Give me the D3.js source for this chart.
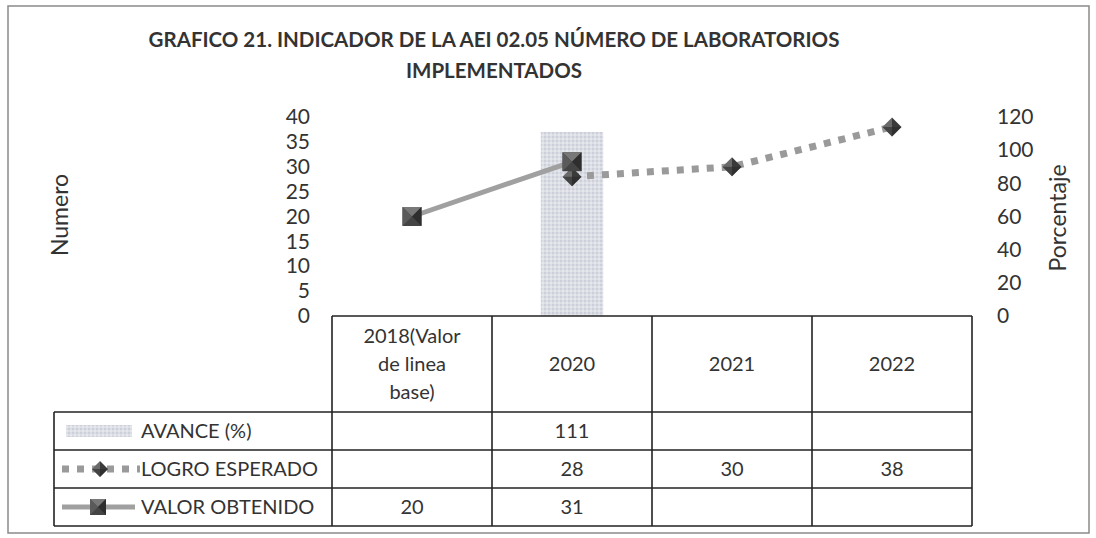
<!DOCTYPE html>
<html>
<head>
<meta charset="utf-8">
<script src="https://cdn.jsdelivr.net/npm/d3@7"></script>
<style>
  body { margin: 0; background: #fff; }
  svg { display: block; font-family: Lato, "Open Sans", sans-serif; }
</style>
</head>
<body>
<svg width="1096" height="538"></svg>
<script>
// data
const categories = ["2018", "2020", "2021", "2022"];
const categoryLabels = [["2018(Valor", "de linea", "base)"], ["2020"], ["2021"], ["2022"]];
const avance = [null, 111, null, null];
const logroEsperado = [null, 28, 30, 38];
const valorObtenido = [20, 31, null, null];
const leftTicks = [0, 5, 10, 15, 20, 25, 30, 35, 40];
const rightTicks = [0, 20, 40, 60, 80, 100, 120];
const seriesNames = ["AVANCE (%)", "LOGRO ESPERADO", "VALOR OBTENIDO"];

const svg = d3.select("svg");
const plotLeft = 332, plotRight = 972, plotTop = 117, plotBottom = 316;
const rowY = [316, 412, 450, 488, 526];
const legendLeft = 54;
const textCol = "#333";

// frame
svg.append("rect").attr("x", 8).attr("y", 6).attr("width", 1081).attr("height", 527)
    .attr("fill", "none").attr("stroke", "#8a8a8a").attr("stroke-width", 1.5);

// bar texture
const pat = svg.append("defs").append("pattern").attr("id", "barTex").attr("patternUnits", "userSpaceOnUse")
    .attr("width", 4).attr("height", 4);
pat.append("rect").attr("width", 4).attr("height", 4).attr("fill", "#dcdee6");
pat.append("rect").attr("width", 2).attr("height", 2).attr("fill", "#cdd0da");
pat.append("rect").attr("x", 2).attr("y", 2).attr("width", 2).attr("height", 2).attr("fill", "#e6e7ed");

// title
const title = svg.append("text").attr("text-anchor", "middle").attr("font-weight", "bold")
    .attr("font-size", 20.5).attr("fill", textCol);
title.append("tspan").attr("x", 494).attr("y", 47).text("GRAFICO 21. INDICADOR DE LA AEI 02.05 NÚMERO DE LABORATORIOS");
title.append("tspan").attr("x", 494).attr("y", 78).text("IMPLEMENTADOS");

// scales
const x = d3.scaleBand().domain(categories).range([plotLeft, plotRight]);
const yL = d3.scaleLinear().domain([0, 40]).range([plotBottom, plotTop]);
const yR = d3.scaleLinear().domain([0, 120]).range([plotBottom, plotTop]);

// axes
const axL = svg.append("g").attr("transform", "translate(310,0)")
    .call(d3.axisLeft(yL).tickValues(leftTicks).tickSize(0).tickPadding(0));
const axR = svg.append("g").attr("transform", "translate(997,0)")
    .call(d3.axisRight(yR).tickValues(rightTicks).tickSize(0).tickPadding(0));
[axL, axR].forEach(a => {
  a.select(".domain").remove();
  a.selectAll("text").attr("font-size", 21).attr("fill", textCol).attr("font-family", "Lato, sans-serif");
});

svg.append("text").attr("transform", "translate(68,215) rotate(-90)").attr("text-anchor", "middle")
    .attr("font-size", 23).attr("fill", textCol).text("Numero");
svg.append("text").attr("transform", "translate(1066,218) rotate(-90)").attr("text-anchor", "middle")
    .attr("font-size", 23).attr("fill", textCol).text("Porcentaje");

// bars (right axis)
const barW = x.bandwidth() * 0.39;
svg.selectAll(".bar").data(categories.map((c, i) => ({c, v: avance[i]})).filter(d => d.v != null))
  .enter().append("rect").attr("class", "bar")
  .attr("x", d => x(d.c) + x.bandwidth() / 2 - barW / 2)
  .attr("y", d => yR(d.v))
  .attr("width", barW)
  .attr("height", d => yR(0) - yR(d.v))
  .attr("fill", "url(#barTex)");

// lines
const cx = c => x(c) + x.bandwidth() / 2;
const logroPts = categories.map((c, i) => ({c, v: logroEsperado[i]})).filter(d => d.v != null);
const valorPts = categories.map((c, i) => ({c, v: valorObtenido[i]})).filter(d => d.v != null);
const line = d3.line().x(d => cx(d.c)).y(d => yL(d.v));

svg.append("path").datum(logroPts).attr("d", line).attr("fill", "none")
    .attr("stroke", "#9a9a9a").attr("stroke-width", 7).attr("stroke-dasharray", "7,8");
svg.append("path").datum(valorPts).attr("d", line).attr("fill", "none")
    .attr("stroke", "#a0a0a0").attr("stroke-width", 5);

function diamond(g, px, py, s) {
  g.append("path").attr("d", `M${px},${py - s}L${px + s},${py}L${px},${py + s}Z`).attr("fill", "#3a3a3a");
  g.append("path").attr("d", `M${px},${py - s}L${px - s},${py}L${px},${py + s}Z`).attr("fill", "#6a6a6a");
  g.append("path").attr("d", `M${px - s},${py}L${px + s},${py}L${px},${py + s}Z`).attr("fill", "#2a2a2a").attr("opacity", 0.6);
}
function square(g, px, py, s) {
  g.append("rect").attr("x", px - s).attr("y", py - s).attr("width", 2 * s).attr("height", 2 * s).attr("fill", "#444");
  g.append("path").attr("d", `M${px - s},${py - s}L${px + s},${py - s}L${px},${py}Z`).attr("fill", "#787878");
  g.append("path").attr("d", `M${px - s},${py - s}L${px - s},${py + s}L${px},${py}Z`).attr("fill", "#5a5a5a");
  g.append("path").attr("d", `M${px + s},${py + s}L${px + s},${py - s}L${px},${py}Z`).attr("fill", "#2e2e2e");
}

const mk = svg.append("g");
logroPts.forEach(d => diamond(mk, cx(d.c), yL(d.v), 9.5));
valorPts.forEach(d => square(mk, cx(d.c), yL(d.v), 9.5));

// data table
const tbl = svg.append("g").attr("stroke", "#222").attr("stroke-width", 1.6).attr("fill", "none");
const colX = categories.map(c => x(c)).concat([plotRight]);

tbl.append("path").attr("d", `M${plotLeft},${rowY[0]}H${plotRight}`);
rowY.slice(1).forEach(y => tbl.append("path").attr("d", `M${legendLeft},${y}H${plotRight}`));
tbl.append("path").attr("d", `M${legendLeft},${rowY[1]}V${rowY[4]}`);
colX.forEach(cxv => tbl.append("path").attr("d", `M${cxv},${rowY[0]}V${rowY[4]}`));

const tt = svg.append("g").attr("font-size", 20).attr("fill", textCol).attr("text-anchor", "middle");
categoryLabels.forEach((lines, i) => {
  const mid = (rowY[0] + rowY[1]) / 2;
  lines.forEach((t, j) => {
    tt.append("text").attr("x", cx(categories[i]))
      .attr("y", mid + 7 + (j - (lines.length - 1) / 2) * 28).text(t);
  });
});

[avance, logroEsperado, valorObtenido].forEach((arr, r) => {
  const ym = (rowY[r + 1] + rowY[r + 2]) / 2 + 7;
  arr.forEach((v, i) => {
    if (v != null) tt.append("text").attr("x", cx(categories[i])).attr("y", ym).text(v);
  });
  tt.append("text").attr("x", 141).attr("y", ym).attr("text-anchor", "start").text(seriesNames[r]);
});

// legend keys
const k1 = (rowY[1] + rowY[2]) / 2, k2 = (rowY[2] + rowY[3]) / 2, k3 = (rowY[3] + rowY[4]) / 2;
svg.append("rect").attr("x", 66).attr("y", k1 - 6).attr("width", 66).attr("height", 12).attr("fill", "url(#barTex)");
svg.append("path").attr("d", `M62,${k2}H140`).attr("stroke", "#9a9a9a").attr("stroke-width", 7).attr("stroke-dasharray", "7,8");
diamond(svg.append("g"), 100, k2, 8);
svg.append("path").attr("d", `M62,${k3}H135`).attr("stroke", "#a0a0a0").attr("stroke-width", 5);
square(svg.append("g"), 98, k3, 8);
</script>
</body>
</html>
